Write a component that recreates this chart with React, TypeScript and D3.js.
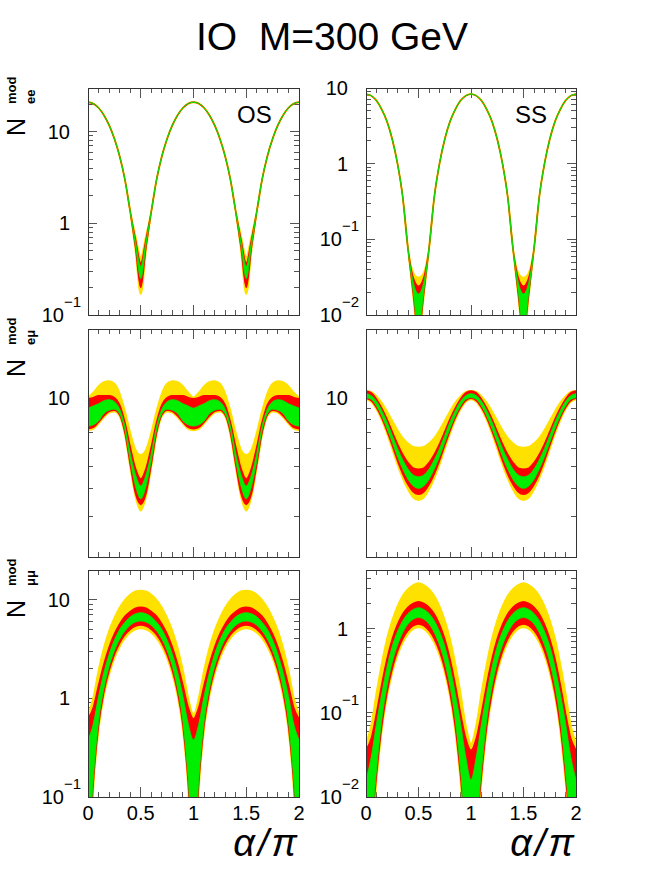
import React from "react";
import * as d3 from "d3";

// alpha / pi sampling points
const alphaOverPi = [0, 0.05, 0.1, 0.15, 0.2, 0.25, 0.3, 0.35, 0.4, 0.45, 0.5, 0.55, 0.6, 0.65, 0.7, 0.75, 0.8, 0.85, 0.9, 0.95, 1, 1.05, 1.1, 1.15, 1.2, 1.25, 1.3, 1.35, 1.4, 1.45, 1.5, 1.55, 1.6, 1.65, 1.7, 1.75, 1.8, 1.85, 1.9, 1.95, 2];

// N_ee OS
const eeOsYellowLo = [21, 20.3, 18.2, 15.2, 11.8, 8.4, 5.4, 3.0, 1.35, 0.52, 0.17, 0.52, 1.35, 3.0, 5.4, 8.4, 11.8, 15.2, 18.2, 20.3, 21, 20.3, 18.2, 15.2, 11.8, 8.4, 5.4, 3.0, 1.35, 0.52, 0.17, 0.52, 1.35, 3.0, 5.4, 8.4, 11.8, 15.2, 18.2, 20.3, 21];
const eeOsRedLo = [21, 20.3, 18.2, 15.2, 11.8, 8.4, 5.4, 3.0, 1.35, 0.55, 0.2, 0.55, 1.35, 3.0, 5.4, 8.4, 11.8, 15.2, 18.2, 20.3, 21, 20.3, 18.2, 15.2, 11.8, 8.4, 5.4, 3.0, 1.35, 0.55, 0.2, 0.55, 1.35, 3.0, 5.4, 8.4, 11.8, 15.2, 18.2, 20.3, 21];
const eeOsGreenLo = [21, 20.3, 18.2, 15.2, 11.8, 8.4, 5.4, 3.0, 1.35, 0.57, 0.25, 0.57, 1.35, 3.0, 5.4, 8.4, 11.8, 15.2, 18.2, 20.3, 21, 20.3, 18.2, 15.2, 11.8, 8.4, 5.4, 3.0, 1.35, 0.57, 0.25, 0.57, 1.35, 3.0, 5.4, 8.4, 11.8, 15.2, 18.2, 20.3, 21];
const eeOsGreenHi = [21, 20.3, 18.2, 15.2, 11.8, 8.4, 5.4, 3.0, 1.35, 0.64, 0.34, 0.64, 1.35, 3.0, 5.4, 8.4, 11.8, 15.2, 18.2, 20.3, 21, 20.3, 18.2, 15.2, 11.8, 8.4, 5.4, 3.0, 1.35, 0.64, 0.34, 0.64, 1.35, 3.0, 5.4, 8.4, 11.8, 15.2, 18.2, 20.3, 21];
const eeOsRedHi = [21, 20.3, 18.2, 15.2, 11.8, 8.4, 5.4, 3.0, 1.35, 0.67, 0.37, 0.67, 1.35, 3.0, 5.4, 8.4, 11.8, 15.2, 18.2, 20.3, 21, 20.3, 18.2, 15.2, 11.8, 8.4, 5.4, 3.0, 1.35, 0.67, 0.37, 0.67, 1.35, 3.0, 5.4, 8.4, 11.8, 15.2, 18.2, 20.3, 21];
const eeOsYellowHi = [21, 20.3, 18.2, 15.2, 11.8, 8.4, 5.4, 3.0, 1.35, 0.72, 0.43, 0.72, 1.35, 3.0, 5.4, 8.4, 11.8, 15.2, 18.2, 20.3, 21, 20.3, 18.2, 15.2, 11.8, 8.4, 5.4, 3.0, 1.35, 0.72, 0.43, 0.72, 1.35, 3.0, 5.4, 8.4, 11.8, 15.2, 18.2, 20.3, 21];

// N_ee SS
const eeSsYellowLo = [8.3, 7.9, 6.8, 5.2, 3.6, 2.1, 1.0, 0.36, 0.075, 0.018, 0.005, 0.018, 0.075, 0.36, 1.0, 2.1, 3.6, 5.2, 6.8, 7.9, 8.3, 7.9, 6.8, 5.2, 3.6, 2.1, 1.0, 0.36, 0.075, 0.018, 0.005, 0.018, 0.075, 0.36, 1.0, 2.1, 3.6, 5.2, 6.8, 7.9, 8.3];
const eeSsRedLo = [8.3, 7.9, 6.8, 5.2, 3.6, 2.1, 1.0, 0.36, 0.075, 0.019, 0.0055, 0.019, 0.075, 0.36, 1.0, 2.1, 3.6, 5.2, 6.8, 7.9, 8.3, 7.9, 6.8, 5.2, 3.6, 2.1, 1.0, 0.36, 0.075, 0.019, 0.0055, 0.019, 0.075, 0.36, 1.0, 2.1, 3.6, 5.2, 6.8, 7.9, 8.3];
const eeSsGreenLo = [8.3, 7.9, 6.8, 5.2, 3.6, 2.1, 1.0, 0.36, 0.075, 0.02, 0.006, 0.02, 0.075, 0.36, 1.0, 2.1, 3.6, 5.2, 6.8, 7.9, 8.3, 7.9, 6.8, 5.2, 3.6, 2.1, 1.0, 0.36, 0.075, 0.02, 0.006, 0.02, 0.075, 0.36, 1.0, 2.1, 3.6, 5.2, 6.8, 7.9, 8.3];
const eeSsGreenHi = [8.3, 7.9, 6.8, 5.2, 3.6, 2.1, 1.0, 0.36, 0.075, 0.027, 0.019, 0.027, 0.075, 0.36, 1.0, 2.1, 3.6, 5.2, 6.8, 7.9, 8.3, 7.9, 6.8, 5.2, 3.6, 2.1, 1.0, 0.36, 0.075, 0.027, 0.019, 0.027, 0.075, 0.36, 1.0, 2.1, 3.6, 5.2, 6.8, 7.9, 8.3];
const eeSsRedHi = [8.3, 7.9, 6.8, 5.2, 3.6, 2.1, 1.0, 0.36, 0.075, 0.031, 0.024, 0.031, 0.075, 0.36, 1.0, 2.1, 3.6, 5.2, 6.8, 7.9, 8.3, 7.9, 6.8, 5.2, 3.6, 2.1, 1.0, 0.36, 0.075, 0.031, 0.024, 0.031, 0.075, 0.36, 1.0, 2.1, 3.6, 5.2, 6.8, 7.9, 8.3];
const eeSsYellowHi = [8.3, 7.9, 6.8, 5.2, 3.6, 2.1, 1.0, 0.36, 0.075, 0.036, 0.031, 0.036, 0.075, 0.36, 1.0, 2.1, 3.6, 5.2, 6.8, 7.9, 8.3, 7.9, 6.8, 5.2, 3.6, 2.1, 1.0, 0.36, 0.075, 0.036, 0.031, 0.036, 0.075, 0.36, 1.0, 2.1, 3.6, 5.2, 6.8, 7.9, 8.3];

// N_emu OS
const emOsYellowHi = [10.0, 10.5, 11.2, 11.7, 11.8, 11.5, 10.4, 8.7, 7.0, 5.9, 5.6, 5.9, 7.0, 8.7, 10.4, 11.5, 11.8, 11.7, 11.2, 10.5, 10.0, 10.5, 11.2, 11.7, 11.8, 11.5, 10.4, 8.7, 7.0, 5.9, 5.6, 5.9, 7.0, 8.7, 10.4, 11.5, 11.8, 11.7, 11.2, 10.5, 10.0];
const emOsRedHi = [9.9, 10.0, 10.2, 10.2, 10.2, 10.0, 9.3, 7.8, 6.1, 4.9, 4.4, 4.9, 6.1, 7.8, 9.3, 10.0, 10.2, 10.2, 10.2, 10.0, 9.9, 10.0, 10.2, 10.2, 10.2, 10.0, 9.3, 7.8, 6.1, 4.9, 4.4, 4.9, 6.1, 7.8, 9.3, 10.0, 10.2, 10.2, 10.2, 10.0, 9.9];
const emOsGreenHi = [9.0, 9.2, 9.4, 9.7, 9.8, 9.6, 8.9, 7.5, 5.7, 4.6, 4.1, 4.6, 5.7, 7.5, 8.9, 9.6, 9.8, 9.7, 9.4, 9.2, 9.0, 9.2, 9.4, 9.7, 9.8, 9.6, 8.9, 7.5, 5.7, 4.6, 4.1, 4.6, 5.7, 7.5, 8.9, 9.6, 9.8, 9.7, 9.4, 9.2, 9.0];
const emOsGreenLo = [7.5, 7.6, 7.9, 8.5, 8.8, 8.9, 8.5, 7.2, 5.3, 4.1, 3.6, 4.1, 5.3, 7.2, 8.5, 8.9, 8.8, 8.5, 7.9, 7.6, 7.5, 7.6, 7.9, 8.5, 8.8, 8.9, 8.5, 7.2, 5.3, 4.1, 3.6, 4.1, 5.3, 7.2, 8.5, 8.9, 8.8, 8.5, 7.9, 7.6, 7.5];
const emOsRedLo = [7.3, 7.4, 7.8, 8.3, 8.7, 8.8, 8.4, 7.0, 5.1, 3.8, 3.4, 3.8, 5.1, 7.0, 8.4, 8.8, 8.7, 8.3, 7.8, 7.4, 7.3, 7.4, 7.8, 8.3, 8.7, 8.8, 8.4, 7.0, 5.1, 3.8, 3.4, 3.8, 5.1, 7.0, 8.4, 8.8, 8.7, 8.3, 7.8, 7.4, 7.3];
const emOsYellowLo = [7.2, 7.3, 7.7, 8.2, 8.6, 8.7, 8.3, 6.9, 5.0, 3.7, 3.2, 3.7, 5.0, 6.9, 8.3, 8.7, 8.6, 8.2, 7.7, 7.3, 7.2, 7.3, 7.7, 8.2, 8.6, 8.7, 8.3, 6.9, 5.0, 3.7, 3.2, 3.7, 5.0, 6.9, 8.3, 8.7, 8.6, 8.2, 7.7, 7.3, 7.2];

// N_emu SS
const emSsYellowHi = [10.7, 10.6, 10.1, 9.5, 8.7, 7.9, 7.2, 6.65, 6.3, 6.07, 6.03, 6.07, 6.3, 6.65, 7.2, 7.9, 8.7, 9.5, 10.1, 10.6, 10.7, 10.6, 10.1, 9.5, 8.7, 7.9, 7.2, 6.65, 6.3, 6.07, 6.03, 6.07, 6.3, 6.65, 7.2, 7.9, 8.7, 9.5, 10.1, 10.6, 10.7];
const emSsRedHi = [10.7, 10.5, 9.86, 9.0, 8.06, 7.1, 6.28, 5.64, 5.19, 4.91, 4.85, 4.91, 5.19, 5.64, 6.28, 7.1, 8.06, 9.0, 9.86, 10.5, 10.7, 10.5, 9.86, 9.0, 8.06, 7.1, 6.28, 5.64, 5.19, 4.91, 4.85, 4.91, 5.19, 5.64, 6.28, 7.1, 8.06, 9.0, 9.86, 10.5, 10.7];
const emSsGreenHi = [10.4, 10.2, 9.63, 8.77, 7.82, 6.83, 5.99, 5.34, 4.86, 4.58, 4.5, 4.58, 4.86, 5.34, 5.99, 6.83, 7.82, 8.77, 9.63, 10.2, 10.4, 10.2, 9.63, 8.77, 7.82, 6.83, 5.99, 5.34, 4.86, 4.58, 4.5, 4.58, 4.86, 5.34, 5.99, 6.83, 7.82, 8.77, 9.63, 10.2, 10.4];
const emSsGreenLo = [10.0, 9.83, 9.19, 8.31, 7.33, 6.37, 5.51, 4.86, 4.38, 4.1, 4.0, 4.1, 4.38, 4.86, 5.51, 6.37, 7.33, 8.31, 9.19, 9.83, 10.0, 9.83, 9.19, 8.31, 7.33, 6.37, 5.51, 4.86, 4.38, 4.1, 4.0, 4.1, 4.38, 4.86, 5.51, 6.37, 7.33, 8.31, 9.19, 9.83, 10.0];
const emSsRedLo = [9.93, 9.7, 9.03, 8.14, 7.14, 6.16, 5.29, 4.62, 4.15, 3.86, 3.77, 3.86, 4.15, 4.62, 5.29, 6.16, 7.14, 8.14, 9.03, 9.7, 9.93, 9.7, 9.03, 8.14, 7.14, 6.16, 5.29, 4.62, 4.15, 3.86, 3.77, 3.86, 4.15, 4.62, 5.29, 6.16, 7.14, 8.14, 9.03, 9.7, 9.93];
const emSsYellowLo = [9.83, 9.6, 8.91, 7.98, 6.97, 5.97, 5.1, 4.44, 3.96, 3.65, 3.56, 3.65, 3.96, 4.44, 5.1, 5.97, 6.97, 7.98, 8.91, 9.6, 9.83, 9.6, 8.91, 7.98, 6.97, 5.97, 5.1, 4.44, 3.96, 3.65, 3.56, 3.65, 3.96, 4.44, 5.1, 5.97, 6.97, 7.98, 8.91, 9.6, 9.83];

// N_mumu OS
const mmOsYellowHi = [0.68, 1.0, 1.9, 3.2, 4.8, 6.5, 8.3, 9.9, 11.2, 12.1, 12.35, 12.1, 11.2, 9.9, 8.3, 6.5, 4.8, 3.2, 1.9, 1.0, 0.68, 1.0, 1.9, 3.2, 4.8, 6.5, 8.3, 9.9, 11.2, 12.1, 12.35, 12.1, 11.2, 9.9, 8.3, 6.5, 4.8, 3.2, 1.9, 1.0, 0.68];
const mmOsRedHi = [0.62, 0.81, 1.36, 2.22, 3.3, 4.5, 5.7, 6.8, 7.6, 8.2, 8.37, 8.2, 7.6, 6.8, 5.7, 4.5, 3.3, 2.22, 1.36, 0.81, 0.62, 0.81, 1.36, 2.22, 3.3, 4.5, 5.7, 6.8, 7.6, 8.2, 8.37, 8.2, 7.6, 6.8, 5.7, 4.5, 3.3, 2.22, 1.36, 0.81, 0.62];
const mmOsGreenHi = [0.38, 0.55, 1.05, 1.82, 2.8, 3.9, 5.0, 5.9, 6.7, 7.2, 7.39, 7.2, 6.7, 5.9, 5.0, 3.9, 2.8, 1.82, 1.05, 0.55, 0.38, 0.55, 1.05, 1.82, 2.8, 3.9, 5.0, 5.9, 6.7, 7.2, 7.39, 7.2, 6.7, 5.9, 5.0, 3.9, 2.8, 1.82, 1.05, 0.55, 0.38];
const mmOsGreenLo = [0.02, 0.15, 0.58, 1.25, 2.1, 3.04, 3.98, 4.83, 5.5, 5.93, 6.08, 5.93, 5.5, 4.83, 3.98, 3.04, 2.1, 1.25, 0.58, 0.15, 0.02, 0.15, 0.58, 1.25, 2.1, 3.04, 3.98, 4.83, 5.5, 5.93, 6.08, 5.93, 5.5, 4.83, 3.98, 3.04, 2.1, 1.25, 0.58, 0.15, 0.02];
const mmOsRedLo = [0.015, 0.136, 0.53, 1.14, 1.91, 2.77, 3.63, 4.4, 5.0, 5.4, 5.54, 5.4, 5.0, 4.4, 3.63, 2.77, 1.91, 1.14, 0.53, 0.136, 0.015, 0.136, 0.53, 1.14, 1.91, 2.77, 3.63, 4.4, 5.0, 5.4, 5.54, 5.4, 5.0, 4.4, 3.63, 2.77, 1.91, 1.14, 0.53, 0.136, 0.015];
const mmOsYellowLo = [0.01, 0.126, 0.49, 1.06, 1.77, 2.57, 3.36, 4.07, 4.64, 5.0, 5.13, 5.0, 4.64, 4.07, 3.36, 2.57, 1.77, 1.06, 0.49, 0.126, 0.01, 0.126, 0.49, 1.06, 1.77, 2.57, 3.36, 4.07, 4.64, 5.0, 5.13, 5.0, 4.64, 4.07, 3.36, 2.57, 1.77, 1.06, 0.49, 0.126, 0.01];

// N_mumu SS
const mmSsYellowHi = [0.043, 0.07, 0.17, 0.38, 0.75, 1.25, 1.85, 2.45, 2.95, 3.3, 3.47, 3.3, 2.95, 2.45, 1.85, 1.25, 0.75, 0.38, 0.17, 0.07, 0.043, 0.07, 0.17, 0.38, 0.75, 1.25, 1.85, 2.45, 2.95, 3.3, 3.47, 3.3, 2.95, 2.45, 1.85, 1.25, 0.75, 0.38, 0.17, 0.07, 0.043];
const mmSsRedHi = [0.036, 0.05, 0.1, 0.22, 0.44, 0.76, 1.13, 1.5, 1.8, 2.0, 2.1, 2.0, 1.8, 1.5, 1.13, 0.76, 0.44, 0.22, 0.1, 0.05, 0.036, 0.05, 0.1, 0.22, 0.44, 0.76, 1.13, 1.5, 1.8, 2.0, 2.1, 2.0, 1.8, 1.5, 1.13, 0.76, 0.44, 0.22, 0.1, 0.05, 0.036];
const mmSsGreenHi = [0.016, 0.03, 0.075, 0.17, 0.35, 0.62, 0.93, 1.25, 1.52, 1.7, 1.78, 1.7, 1.52, 1.25, 0.93, 0.62, 0.35, 0.17, 0.075, 0.03, 0.016, 0.03, 0.075, 0.17, 0.35, 0.62, 0.93, 1.25, 1.52, 1.7, 1.78, 1.7, 1.52, 1.25, 0.93, 0.62, 0.35, 0.17, 0.075, 0.03, 0.016];
const mmSsGreenLo = [0.001, 0.004, 0.021, 0.083, 0.207, 0.4, 0.64, 0.9, 1.14, 1.3, 1.36, 1.3, 1.14, 0.9, 0.64, 0.4, 0.207, 0.083, 0.021, 0.004, 0.001, 0.004, 0.021, 0.083, 0.207, 0.4, 0.64, 0.9, 1.14, 1.3, 1.36, 1.3, 1.14, 0.9, 0.64, 0.4, 0.207, 0.083, 0.021, 0.004, 0.001];
const mmSsRedLo = [0.001, 0.0035, 0.018, 0.069, 0.173, 0.334, 0.54, 0.76, 0.95, 1.09, 1.14, 1.09, 0.95, 0.76, 0.54, 0.334, 0.173, 0.069, 0.018, 0.0035, 0.001, 0.0035, 0.018, 0.069, 0.173, 0.334, 0.54, 0.76, 0.95, 1.09, 1.14, 1.09, 0.95, 0.76, 0.54, 0.334, 0.173, 0.069, 0.018, 0.0035, 0.001];
const mmSsYellowLo = [0.001, 0.003, 0.016, 0.063, 0.158, 0.305, 0.49, 0.69, 0.87, 1.0, 1.04, 1.0, 0.87, 0.69, 0.49, 0.305, 0.158, 0.063, 0.016, 0.003, 0.001, 0.003, 0.016, 0.063, 0.158, 0.305, 0.49, 0.69, 0.87, 1.0, 1.04, 1.0, 0.87, 0.69, 0.49, 0.305, 0.158, 0.063, 0.016, 0.003, 0.001];

// axis labels
const xTickLabels = ["0", "0.5", "1", "1.5", "2"];
const rowSubscripts = ["ee", "eμ", "μμ"];

const YELLOW = "#ffe100";
const RED = "#ff0000";
const GREEN = "#00ee00";
const FONT = "'Liberation Sans', Arial, Helvetica, sans-serif";
const AXIS = "#333";
const TICK = "#555";

const colX = [[88, 299], [366, 576]];
const rowY = [[88, 315], [329, 557], [570, 797]];

const panels = [
  { row: 0, col: 0, domain: [0.1, 30], tag: "OS", yLabels: [[0.1, "10", "−1"], [1, "1", ""], [10, "10", ""]],
    bands: [[eeOsYellowLo, eeOsYellowHi, YELLOW], [eeOsRedLo, eeOsRedHi, RED], [eeOsGreenLo, eeOsGreenHi, GREEN]] },
  { row: 0, col: 1, domain: [0.01, 10], tag: "SS", yLabels: [[0.01, "10", "−2"], [0.1, "10", "−1"], [1, "1", ""], [10, "10", ""]],
    bands: [[eeSsYellowLo, eeSsYellowHi, YELLOW], [eeSsRedLo, eeSsRedHi, RED], [eeSsGreenLo, eeSsGreenHi, GREEN]] },
  { row: 1, col: 0, domain: [2, 20], tag: "", yLabels: [[10, "10", ""]],
    bands: [[emOsYellowLo, emOsYellowHi, YELLOW], [emOsRedLo, emOsRedHi, RED], [emOsGreenLo, emOsGreenHi, GREEN]] },
  { row: 1, col: 1, domain: [2, 20], tag: "", yLabels: [[10, "10", ""]],
    bands: [[emSsYellowLo, emSsYellowHi, YELLOW], [emSsRedLo, emSsRedHi, RED], [emSsGreenLo, emSsGreenHi, GREEN]] },
  { row: 2, col: 0, domain: [0.1, 20], tag: "", yLabels: [[0.1, "10", "−1"], [1, "1", ""], [10, "10", ""]],
    bands: [[mmOsYellowLo, mmOsYellowHi, YELLOW], [mmOsRedLo, mmOsRedHi, RED], [mmOsGreenLo, mmOsGreenHi, GREEN]] },
  { row: 2, col: 1, domain: [0.01, 5], tag: "", yLabels: [[0.01, "10", "−2"], [0.1, "10", "−1"], [1, "1", ""]],
    bands: [[mmSsYellowLo, mmSsYellowHi, YELLOW], [mmSsRedLo, mmSsRedHi, RED], [mmSsGreenLo, mmSsGreenHi, GREEN]] },
];

const bandStroke: Record<string, number> = { [YELLOW]: 2, [RED]: 1.4, [GREEN]: 0.8 };

function logTicks(lo: number, hi: number) {
  const out: { v: number; major: boolean }[] = [];
  for (let e = Math.floor(Math.log10(lo)); e <= Math.ceil(Math.log10(hi)); e++) {
    for (let k = 1; k <= 9; k++) {
      const v = k * Math.pow(10, e);
      if (v >= lo * 0.999 && v <= hi * 1.001) out.push({ v, major: k === 1 });
    }
  }
  return out;
}

function Panel({ p, idx }: { p: any; idx: number }) {
  const [x0, x1] = colX[p.col];
  const [y0, y1] = rowY[p.row];
  const x = d3.scaleLinear().domain([0, 2]).range([x0, x1]);
  const y = d3.scaleLog().domain(p.domain).range([y1, y0]);
  const index = alphaOverPi.map((_, i) => i);
  const area = (lo: number[], hi: number[]) =>
    d3.area<number>()
      .x((i) => x(alphaOverPi[i]))
      .y0((i) => y(lo[i]))
      .y1((i) => y(hi[i]))
      .curve(d3.curveMonotoneX)(index) || "";

  const xTicks = d3.range(0, 21).map((i) => ({ v: i / 10, major: i % 5 === 0 }));
  const yTicks = logTicks(p.domain[0], p.domain[1]);
  const clipId = `clip-${idx}`;

  return (
    <g>
      <defs>
        <clipPath id={clipId}>
          <rect x={x0} y={y0} width={x1 - x0} height={y1 - y0} />
        </clipPath>
      </defs>
      <g stroke={TICK} strokeWidth={1} shapeRendering="crispEdges">
        {xTicks.map((t) => {
          const len = t.major ? 10 : 5;
          const xv = x(t.v);
          return (
            <g key={"x" + t.v}>
              <line x1={xv} x2={xv} y1={y1} y2={y1 - len} />
              <line x1={xv} x2={xv} y1={y0} y2={y0 + len} />
            </g>
          );
        })}
        {yTicks.map((t) => {
          const len = t.major ? 9 : 5;
          const yv = y(t.v);
          return (
            <g key={"y" + t.v}>
              <line x1={x0} x2={x0 + len} y1={yv} y2={yv} />
              <line x1={x1} x2={x1 - len} y1={yv} y2={yv} />
            </g>
          );
        })}
      </g>
      <g clipPath={`url(#${clipId})`}>
        {p.bands.map((b: any, i: number) => (
          <path key={i} d={area(b[0], b[1])} fill={b[2]} stroke={b[2]}
            strokeWidth={bandStroke[b[2]]} strokeLinejoin="round" />
        ))}
      </g>
      <rect x={x0} y={y0} width={x1 - x0} height={y1 - y0} fill="none" stroke={AXIS}
        strokeWidth={1} shapeRendering="crispEdges" />
      {p.yLabels.map((l: any) => {
        const yv = y(l[0]);
        return l[2] ? (
          <text key={"l" + l[0]} x={x0 - 7} y={yv + 7} textAnchor="end" fontSize={20} fontFamily={FONT}>
            {l[1]}
            <tspan dy={-15} fontSize={15}>{l[2]}</tspan>
          </text>
        ) : (
          <text key={"l" + l[0]} x={x0 - 18} y={yv + 7} textAnchor="end" fontSize={20} fontFamily={FONT}>
            {l[1]}
          </text>
        );
      })}
      {p.row === 2 &&
        xTickLabels.map((s) => (
          <text key={"xl" + s} x={x(+s)} y={y1 + 23} textAnchor="middle" fontSize={20} fontFamily={FONT}>
            {s}
          </text>
        ))}
      {p.row === 2 && (
        <text x={x1 - 2} y={856} textAnchor="end" fontSize={38} fontFamily={FONT} fontStyle="italic">
          α<tspan dx={3}>/</tspan><tspan dx={3}>π</tspan>
        </text>
      )}
      {p.tag && (
        <text x={x0 + 149} y={123} fontSize={24} fontFamily={FONT}>
          {p.tag}
        </text>
      )}
    </g>
  );
}

export default function App() {
  return (
    <svg width={664} height={886} style={{ position: "absolute", left: 0, top: 0, background: "#fff" }}>
      <rect x={0} y={0} width={664} height={886} fill="#fff" />
      <text x={332} y={50} textAnchor="middle" fontSize={39} fontFamily={FONT}>
        {"IO\u00a0\u00a0M=300 GeV"}
      </text>
      {panels.map((p, i) => (
        <Panel key={i} p={p} idx={i} />
      ))}
      {rowSubscripts.map((s, r) => (
        <g key={s} transform={`translate(25, ${rowY[r][0] + 48}) rotate(-90)`} fontFamily={FONT}>
          <text x={0} y={0} fontSize={25}>N</text>
          <text x={32} y={-9} fontSize={13} fontWeight="bold">mod</text>
          <text x={32} y={10} fontSize={13} fontWeight="bold">{s}</text>
        </g>
      ))}
    </svg>
  );
}
